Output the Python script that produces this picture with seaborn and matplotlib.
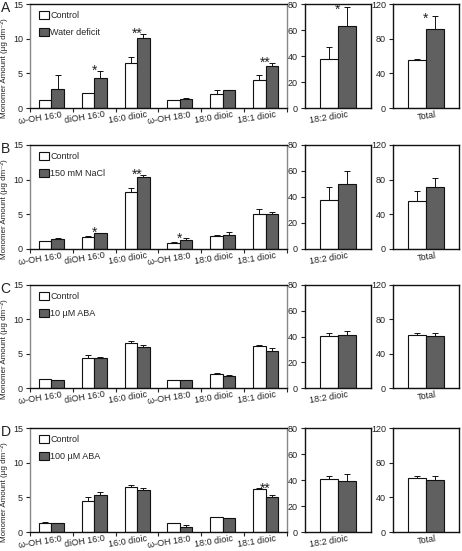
import matplotlib
matplotlib.use('Agg')
import matplotlib.pyplot as plt
import matplotlib.transforms as mtransforms
from matplotlib.patches import Patch
import seaborn as sns
import pandas as pd

# ---------------- data ----------------
categories = ['ω-OH 16:0', 'diOH 16:0', '16:0 dioic', 'ω-OH 18:0', '18:0 dioic', '18:1 dioic']
cat_182 = ['18:2 dioic']
cat_total = ['Total']
panel_letters = ['A', 'B', 'C', 'D']
treatments = ['Water deficit', '150 mM NaCl', '10 µM ABA', '100 µM ABA']

# panel A
ctrl_A = [1.1, 2.1, 6.45, 1.1, 2.0, 4.1]
ctrl_A_err = [0.1, 0.1, 0.85, 0.05, 0.6, 0.6]
trt_A = [2.7, 4.3, 10.05, 1.3, 2.55, 6.1]
trt_A_err = [2.0, 1.1, 0.65, 0.1, 0.1, 0.45]
sig_A = ['', '*', '**', '', '', '**']
ctrl182_A, ctrl182_A_err, trt182_A, trt182_A_err, sig182_A = 38.0, 9.0, 63.0, 15.0, '*'
ctrlT_A, ctrlT_A_err, trtT_A, trtT_A_err, sigT_A = 55.0, 1.5, 91.0, 15.0, '*'

# panel B
ctrl_B = [1.15, 1.8, 8.2, 0.9, 1.9, 5.0]
ctrl_B_err = [0.05, 0.05, 0.65, 0.12, 0.05, 0.8]
trt_B = [1.4, 2.25, 10.45, 1.3, 2.0, 5.0]
trt_B_err = [0.15, 0.1, 0.25, 0.25, 0.45, 0.4]
sig_B = ['', '*', '**', '*', '', '']
ctrl182_B, ctrl182_B_err, trt182_B, trt182_B_err, sig182_B = 37.4, 10.0, 50.3, 9.7, ''
ctrlT_B, ctrlT_B_err, trtT_B, trtT_B_err, sigT_B = 55.5, 11.0, 72.0, 10.0, ''

# panel C
ctrl_C = [1.3, 4.4, 6.5, 1.15, 2.05, 6.1]
ctrl_C_err = [0.05, 0.4, 0.3, 0.05, 0.1, 0.15]
trt_C = [1.15, 4.35, 5.95, 1.15, 1.8, 5.4]
trt_C_err = [0.05, 0.2, 0.3, 0.05, 0.1, 0.45]
sig_C = ['', '', '', '', '', '']
ctrl182_C, ctrl182_C_err, trt182_C, trt182_C_err, sig182_C = 40.3, 2.3, 41.2, 2.8, ''
ctrlT_C, ctrlT_C_err, trtT_C, trtT_C_err, sigT_C = 61.5, 2.5, 60.5, 3.0, ''

# panel D
ctrl_D = [1.35, 4.5, 6.5, 1.3, 2.1, 6.2]
ctrl_D_err = [0.05, 0.55, 0.3, 0.05, 0.05, 0.1]
trt_D = [1.25, 5.35, 6.1, 0.75, 2.0, 5.0]
trt_D_err = [0.1, 0.4, 0.25, 0.25, 0.05, 0.3]
sig_D = ['', '', '', '', '', '**']
ctrl182_D, ctrl182_D_err, trt182_D, trt182_D_err, sig182_D = 40.8, 2.0, 39.3, 5.0, ''
ctrlT_D, ctrlT_D_err, trtT_D, trtT_D_err, sigT_D = 62.5, 2.5, 60.0, 4.3, ''

main_ticks = [0, 5, 10, 15]
mid_ticks = [0, 20, 40, 60, 80]
tot_ticks = [0, 40, 80, 120]

panels = [
    (ctrl_A, ctrl_A_err, trt_A, trt_A_err, sig_A,
     (ctrl182_A, ctrl182_A_err, trt182_A, trt182_A_err, sig182_A),
     (ctrlT_A, ctrlT_A_err, trtT_A, trtT_A_err, sigT_A)),
    (ctrl_B, ctrl_B_err, trt_B, trt_B_err, sig_B,
     (ctrl182_B, ctrl182_B_err, trt182_B, trt182_B_err, sig182_B),
     (ctrlT_B, ctrlT_B_err, trtT_B, trtT_B_err, sigT_B)),
    (ctrl_C, ctrl_C_err, trt_C, trt_C_err, sig_C,
     (ctrl182_C, ctrl182_C_err, trt182_C, trt182_C_err, sig182_C),
     (ctrlT_C, ctrlT_C_err, trtT_C, trtT_C_err, sigT_C)),
    (ctrl_D, ctrl_D_err, trt_D, trt_D_err, sig_D,
     (ctrl182_D, ctrl182_D_err, trt182_D, trt182_D_err, sig182_D),
     (ctrlT_D, ctrlT_D_err, trtT_D, trtT_D_err, sigT_D)),
]

# ---------------- style ----------------
sns.set_theme(style='white')
plt.rcParams['font.family'] = ['Liberation Sans', 'DejaVu Sans']
FS = 6.5
CTRL_COLOR = 'white'
TRT_COLOR = '#606060'
EDGE = '#111111'

fig = plt.figure(figsize=(4.62, 5.51), dpi=100)
W, H = 462.0, 551.0

def ax_px(left, top, right, bottom):
    return fig.add_axes([left / W, 1 - bottom / H, (right - left) / W, (bottom - top) / H])

row_px = [(4, 108), (145, 249), (285, 388), (428, 532)]


def draw(ax, cats, ctrl, ctrl_err, trt, trt_err, sigs, treat_name, width, ylim, yticks, star_off):
    df = pd.DataFrame({
        'category': list(cats) * 2,
        'group': ['Control'] * len(cats) + [treat_name] * len(cats),
        'value': list(ctrl) + list(trt),
    })
    sns.barplot(data=df, x='category', y='value', hue='group',
                palette=[CTRL_COLOR, TRT_COLOR], edgecolor=EDGE, linewidth=0.8,
                width=width, errorbar=None, legend=False, ax=ax, saturation=1)
    errs = [ctrl_err, trt_err]
    tops = []
    for cont, err in zip(ax.containers, errs):
        xs = [b.get_x() + b.get_width() / 2 for b in cont]
        hs = [b.get_height() for b in cont]
        ax.errorbar(xs, hs, yerr=[[0] * len(hs), list(err)], fmt='none',
                    ecolor=EDGE, elinewidth=0.7, capsize=2.0, capthick=0.7)
        tops.append([h + e for h, e in zip(hs, err)])
    for i, s in enumerate(sigs):
        if s:
            y = max(tops[0][i], tops[1][i])
            ax.annotate(s, (i, y), xytext=(0, star_off), textcoords='offset points',
                        ha='center', va='baseline', fontsize=10, color='#222222')
    ax.set_xlim(-0.5, len(cats) - 0.5)
    ax.set_ylim(*ylim)
    ax.set_yticks(yticks)
    ax.set_xlabel('')
    ax.set_ylabel('')
    ax.tick_params(axis='y', which='major', direction='out', length=3, width=0.8,
                   labelsize=FS, pad=2, left=True, colors='#222222')
    ax.tick_params(axis='x', which='major', length=0, labelsize=FS, pad=1.5)
    for sp in ax.spines.values():
        sp.set_linewidth(1.0)
        sp.set_color(EDGE)
        sp.set_visible(True)
    ax.set_xticks(range(len(cats)))
    ax.set_xticklabels(cats)
    off = mtransforms.ScaledTranslation(7 / 72, 0, fig.dpi_scale_trans)
    for lab in ax.get_xticklabels():
        lab.set_rotation(9)
        lab.set_ha('right')
        lab.set_va('top')
        lab.set_rotation_mode('anchor')
        lab.set_transform(lab.get_transform() + off)
        lab.set_color('#222222')


for r, (pdata, treat) in enumerate(zip(panels, treatments)):
    ctrl, ctrl_err, trt, trt_err, sigs, p182, ptot = pdata
    top, bot = row_px[r]
    ax_main = ax_px(30, top, 287, bot)
    ax_mid = ax_px(305, top, 371, bot)
    ax_tot = ax_px(393, top, 459, bot)

    draw(ax_main, categories, ctrl, ctrl_err, trt, trt_err, sigs, treat, 0.58,
         (0, 15), main_ticks, -3)
    ax_main.set_xticks([i - 0.5 for i in range(len(categories) + 1)], minor=True)
    ax_main.tick_params(axis='x', which='minor', direction='out', length=3, width=0.8,
                        bottom=True)
    ax_main.spines['left'].set_color('#888888')
    ax_main.spines['right'].set_color('#888888')
    ax_main.set_ylabel('Monomer Amount (µg dm⁻²)', fontsize=5.8, color='#222222')
    ax_main.yaxis.set_label_coords(-0.085, 0.38)

    draw(ax_mid, cat_182, [p182[0]], [p182[1]], [p182[2]], [p182[3]], [p182[4]], treat,
         0.54, (0, 80), mid_ticks, -5)
    draw(ax_tot, cat_total, [ptot[0]], [ptot[1]], [ptot[2]], [ptot[3]], [ptot[4]], treat,
         0.54, (0, 120), tot_ticks, -5)

    handles = [Patch(facecolor=CTRL_COLOR, edgecolor=EDGE, linewidth=0.8, label='Control'),
               Patch(facecolor=TRT_COLOR, edgecolor=EDGE, linewidth=0.8, label=treat)]
    ax_main.legend(handles=handles, loc='upper left', bbox_to_anchor=(0.02, 0.97),
                   frameon=False, fontsize=FS, handlelength=1.1, handleheight=1.0,
                   handletextpad=0.2, labelspacing=0.9, borderaxespad=0.2, borderpad=0.2)

    fig.text(0.5 / W, 1 - (top - 3) / H, panel_letters[r], fontsize=10, ha='left', va='top',
             color='#222222')

fig.savefig('out.png', dpi=100)
